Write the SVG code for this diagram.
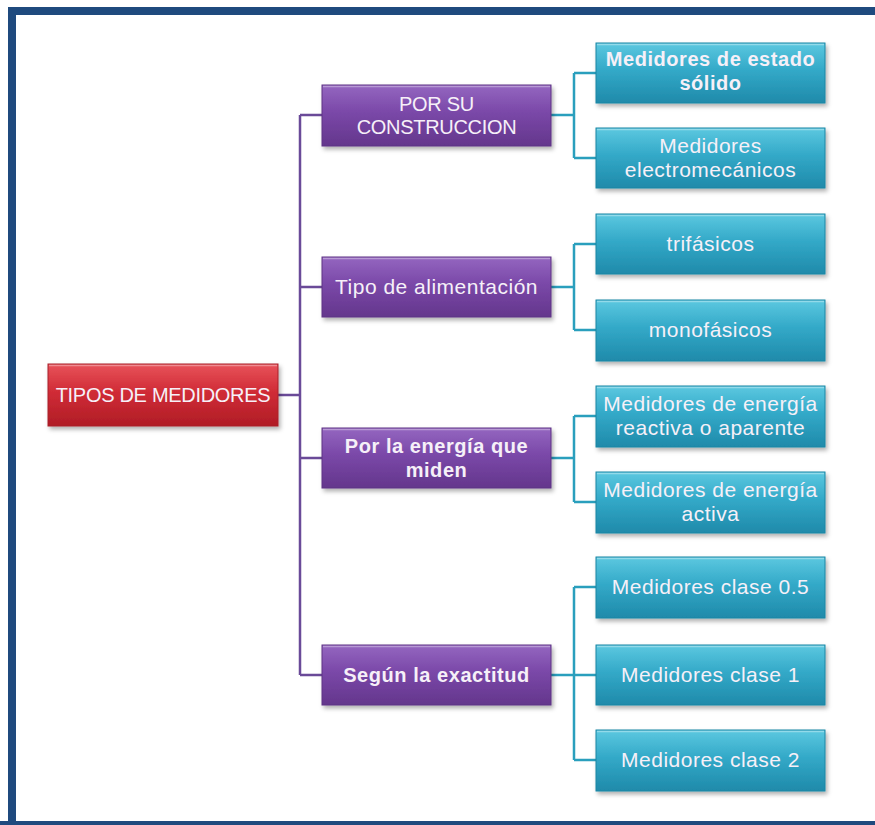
<svg xmlns="http://www.w3.org/2000/svg" width="875" height="825" viewBox="0 0 875 825">
  <defs>
    <linearGradient id="gRed" x1="0" y1="0" x2="0" y2="1">
      <stop offset="0" stop-color="#e8525a"/>
      <stop offset="0.45" stop-color="#d02c36"/>
      <stop offset="1" stop-color="#b01c26"/>
    </linearGradient>
    <linearGradient id="gPurple" x1="0" y1="0" x2="0" y2="1">
      <stop offset="0" stop-color="#9466c0"/>
      <stop offset="0.45" stop-color="#7a48a8"/>
      <stop offset="1" stop-color="#64368c"/>
    </linearGradient>
    <linearGradient id="gTeal" x1="0" y1="0" x2="0" y2="1">
      <stop offset="0" stop-color="#5cc8e0"/>
      <stop offset="0.45" stop-color="#33a9c8"/>
      <stop offset="1" stop-color="#1f8aaa"/>
    </linearGradient>
    <filter id="shadow" x="-10%" y="-20%" width="120%" height="150%">
      <feDropShadow dx="2" dy="3" stdDeviation="2" flood-color="#000" flood-opacity="0.3"/>
    </filter>
  </defs>
  <style>
    .box { stroke-width: 1; filter: url(#shadow); }
    .red { fill: url(#gRed); stroke: #a8202a; }
    .purple { fill: url(#gPurple); stroke: #5e3584; }
    .teal { fill: url(#gTeal); stroke: #1d86a4; }
    .hl { fill: none; stroke: #ffffff; stroke-opacity: 0.35; stroke-width: 1.5; }
    text { font-family: "Liberation Sans", Arial, sans-serif; font-size: 21px; letter-spacing: 0.5px; fill: #f6f0f8; text-anchor: middle; }
    .caps { font-size: 20px; letter-spacing: -0.3px; }
    .b { font-weight: bold; font-size: 20px; letter-spacing: 0.55px; }
    .cp { fill: none; stroke: #6a4a98; stroke-width: 2.5; }
    .ct { fill: none; stroke: #2a9fbd; stroke-width: 2.5; }
  </style>

  <!-- page background and frame -->
  <rect x="0" y="0" width="875" height="825" fill="#ffffff"/>
  <path d="M12 825 V11 H875" fill="none" stroke="#1f4a7e" stroke-width="8"/>
  <rect x="0" y="821" width="875" height="4" fill="#1f4a7e"/>

  <!-- connectors -->
  <g id="connectors">
    <path class="cp" d="M278 395 H300 M300 115 V675 M300 115 H322 M300 287 H322 M300 458 H322 M300 675 H322"/>
    <path class="ct" d="M551 115 H574 M574 73 V158 M574 73 H596 M574 158 H596"/>
    <path class="ct" d="M551 287 H574 M574 244 V330 M574 244 H596 M574 330 H596"/>
    <path class="ct" d="M551 458 H574 M574 416 V502 M574 416 H596 M574 502 H596"/>
    <path class="ct" d="M551 675 H574 M574 587 V760 M574 587 H596 M574 675 H596 M574 760 H596"/>
  </g>

  <!-- root -->
  <g id="root">
    <rect class="box red" x="48" y="364" width="230" height="62"/>
    <path class="hl" d="M49 365.5 H277"/>
    <text class="caps" x="163" y="402">TIPOS DE MEDIDORES</text>
  </g>

  <!-- categories -->
  <g id="construccion">
    <rect class="box purple" x="322" y="85" width="229" height="61"/>
    <path class="hl" d="M323 86.5 H550"/>
    <text class="caps" x="436.5" y="111">POR SU</text>
    <text class="caps" x="436.5" y="134">CONSTRUCCION</text>
  </g>
  <g id="alimentacion">
    <rect class="box purple" x="322" y="257" width="229" height="60"/>
    <path class="hl" d="M323 258.5 H550"/>
    <text x="436.5" y="294">Tipo de alimentación</text>
  </g>
  <g id="energia">
    <rect class="box purple" x="322" y="428" width="229" height="60"/>
    <path class="hl" d="M323 429.5 H550"/>
    <text class="b" x="436.5" y="453">Por la energía que</text>
    <text class="b" x="436.5" y="477">miden</text>
  </g>
  <g id="exactitud">
    <rect class="box purple" x="322" y="645" width="229" height="60"/>
    <path class="hl" d="M323 646.5 H550"/>
    <text class="b" x="436.5" y="682">Según la exactitud</text>
  </g>

  <!-- leaves -->
  <g id="solido">
    <rect class="box teal" x="596" y="43" width="229" height="60"/>
    <path class="hl" d="M597 44.5 H824"/>
    <text class="b" x="710.5" y="66">Medidores de estado</text>
    <text class="b" x="710.5" y="90">sólido</text>
  </g>
  <g id="electromecanicos">
    <rect class="box teal" x="596" y="128" width="229" height="60"/>
    <path class="hl" d="M597 129.5 H824"/>
    <text x="710.5" y="153">Medidores</text>
    <text x="710.5" y="177">electromecánicos</text>
  </g>
  <g id="trifasicos">
    <rect class="box teal" x="596" y="214" width="229" height="60"/>
    <path class="hl" d="M597 215.5 H824"/>
    <text x="710.5" y="251">trifásicos</text>
  </g>
  <g id="monofasicos">
    <rect class="box teal" x="596" y="300" width="229" height="61"/>
    <path class="hl" d="M597 301.5 H824"/>
    <text x="710.5" y="337">monofásicos</text>
  </g>
  <g id="reactiva">
    <rect class="box teal" x="596" y="386" width="229" height="61"/>
    <path class="hl" d="M597 387.5 H824"/>
    <text x="710.5" y="411">Medidores de energía</text>
    <text x="710.5" y="435">reactiva o aparente</text>
  </g>
  <g id="activa">
    <rect class="box teal" x="596" y="472" width="229" height="61"/>
    <path class="hl" d="M597 473.5 H824"/>
    <text x="710.5" y="497">Medidores de energía</text>
    <text x="710.5" y="521">activa</text>
  </g>
  <g id="clase05">
    <rect class="box teal" x="596" y="557" width="229" height="61"/>
    <path class="hl" d="M597 558.5 H824"/>
    <text x="710.5" y="594">Medidores clase 0.5</text>
  </g>
  <g id="clase1">
    <rect class="box teal" x="596" y="645" width="229" height="60"/>
    <path class="hl" d="M597 646.5 H824"/>
    <text x="710.5" y="682">Medidores clase 1</text>
  </g>
  <g id="clase2">
    <rect class="box teal" x="596" y="730" width="229" height="61"/>
    <path class="hl" d="M597 731.5 H824"/>
    <text x="710.5" y="767">Medidores clase 2</text>
  </g>
</svg>
